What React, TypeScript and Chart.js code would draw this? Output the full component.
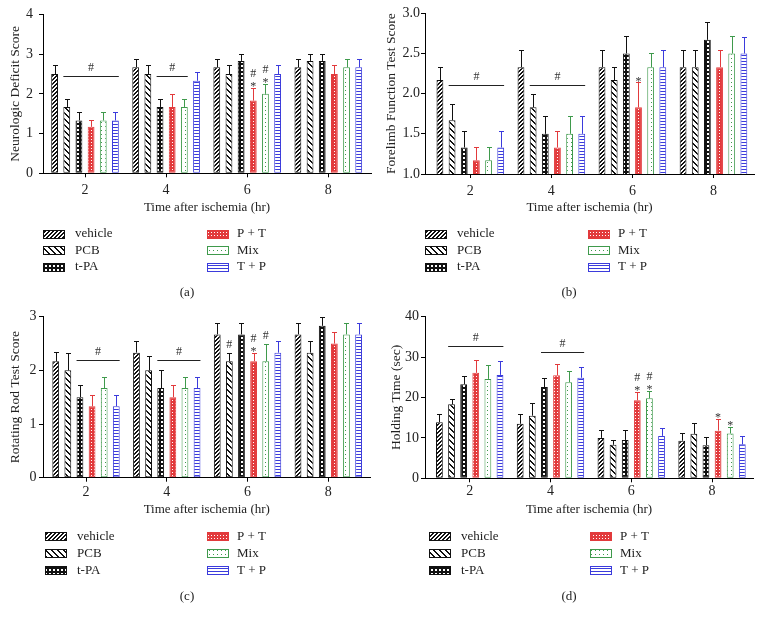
import React, { useEffect, useRef } from "react";
import { Chart, registerables } from "chart.js";

Chart.register(...registerables);

// ---------- data ----------
const HOURS = [2, 4, 6, 8];
const SERIES = ["vehicle", "PCB", "t-PA", "P + T", "Mix", "T + P"];
const X_TITLE = "Time after ischemia (hr)";

// (a) Neurologic deficit score: rows = series, columns = hours
const NEURO_MEAN = [
  [2.5, 2.67, 2.67, 2.67],
  [1.67, 2.5, 2.5, 2.83],
  [1.33, 1.67, 2.83, 2.83],
  [1.17, 1.67, 1.83, 2.5],
  [1.33, 1.67, 2.0, 2.67],
  [1.33, 2.33, 2.5, 2.67],
];
const NEURO_SEM = [
  [0.22, 0.21, 0.21, 0.21],
  [0.21, 0.22, 0.22, 0.17],
  [0.21, 0.21, 0.17, 0.17],
  [0.17, 0.33, 0.31, 0.22],
  [0.21, 0.21, 0.26, 0.21],
  [0.21, 0.21, 0.22, 0.21],
];
const NEURO_TICKS = [0, 1, 2, 3, 4];
const NEURO_BRACKETS = [
  { group: 0, from: 1, to: 5, level: 2.46 },
  { group: 1, from: 2, to: 4, level: 2.46 },
];
const NEURO_MARKS = [
  { group: 2, series: 3, text: ["*", "#"] },
  { group: 2, series: 4, text: ["*", "#"] },
];

// (b) Forelimb function test score
const FORE_MEAN = [
  [2.17, 2.33, 2.33, 2.33],
  [1.67, 1.83, 2.17, 2.33],
  [1.33, 1.5, 2.5, 2.67],
  [1.17, 1.33, 1.83, 2.33],
  [1.17, 1.5, 2.33, 2.5],
  [1.33, 1.5, 2.33, 2.5],
];
const FORE_SEM = [
  [0.16, 0.21, 0.21, 0.21],
  [0.2, 0.17, 0.16, 0.21],
  [0.21, 0.22, 0.22, 0.22],
  [0.16, 0.21, 0.31, 0.21],
  [0.16, 0.22, 0.17, 0.22],
  [0.21, 0.22, 0.21, 0.21],
];
const FORE_TICKS = [1.0, 1.5, 2.0, 2.5, 3.0];
const FORE_BRACKETS = [
  { group: 0, from: 1, to: 5, level: 2.11 },
  { group: 1, from: 1, to: 5, level: 2.11 },
];
const FORE_MARKS = [{ group: 2, series: 3, text: ["*"] }];

// (c) Rotating rod test score
const ROD_MEAN = [
  [2.17, 2.33, 2.67, 2.67],
  [2.0, 2.0, 2.17, 2.33],
  [1.5, 1.67, 2.67, 2.83],
  [1.33, 1.5, 2.17, 2.5],
  [1.67, 1.67, 2.17, 2.67],
  [1.33, 1.67, 2.33, 2.67],
];
const ROD_SEM = [
  [0.17, 0.22, 0.21, 0.21],
  [0.33, 0.26, 0.16, 0.22],
  [0.22, 0.33, 0.21, 0.17],
  [0.22, 0.22, 0.16, 0.22],
  [0.21, 0.21, 0.33, 0.21],
  [0.21, 0.21, 0.22, 0.21],
];
const ROD_TICKS = [0, 1, 2, 3];
const ROD_BRACKETS = [
  { group: 0, from: 2, to: 5, level: 2.2 },
  { group: 1, from: 2, to: 5, level: 2.2 },
];
const ROD_MARKS = [
  { group: 2, series: 1, text: ["#"] },
  { group: 2, series: 3, text: ["*", "#"] },
  { group: 2, series: 4, text: ["#"] },
];

// (d) Holding time (sec)
const HOLD_MEAN = [
  [13.9, 13.5, 10.0, 9.3],
  [18.3, 15.5, 8.3, 11.0],
  [23.3, 22.6, 9.5, 8.2],
  [26.1, 25.5, 19.3, 11.8],
  [24.6, 23.8, 19.8, 11.1],
  [25.6, 24.9, 10.5, 8.4],
];
const HOLD_SEM = [
  [1.9, 2.3, 2.0, 1.9],
  [1.3, 3.2, 1.1, 2.6],
  [1.9, 2.3, 2.4, 2.0],
  [3.3, 2.7, 2.0, 2.9],
  [3.4, 2.8, 1.9, 1.7],
  [3.5, 2.7, 2.0, 2.1],
];
const HOLD_TICKS = [0, 10, 20, 30, 40];
const HOLD_BRACKETS = [
  { group: 0, from: 1, to: 5, level: 32.7 },
  { group: 1, from: 2, to: 5, level: 31.2 },
];
const HOLD_MARKS = [
  { group: 2, series: 3, text: ["*", "#"] },
  { group: 2, series: 4, text: ["*", "#"] },
  { group: 3, series: 3, text: ["*"] },
  { group: 3, series: 4, text: ["*"] },
];

// ---------- styles ----------
const FONT = '"Liberation Serif", "Times New Roman", serif';
const TEXT = "#222";
const RED = "#e23a3c";
const GREEN = "#3f9a4c";
const BLUE = "#3b3bdc";
const COLORS = ["#111", "#111", "#111", RED, GREEN, BLUE];

type Layout = {
  left: number; top: number; w: number; h: number;
  chartLeft: number; chartRight: number; chartTop: number; chartBottom: number;
  xMin: number; xMax: number;
  yTickPad: number; yTitlePad: number; xTickPad: number; xTitleY: number;
  legendL: number; legendR: number; legendY0: number; legendDy: number;
  labelX: number; labelY: number;
};

type Spec = {
  mean: number[][]; sem: number[][]; ticks: number[]; decimals: number;
  yTitle: string; label: string;
  brackets: { group: number; from: number; to: number; level: number }[];
  marks: { group: number; series: number; text: string[] }[];
  layout: Layout;
};

function makePatterns(ctx: CanvasRenderingContext2D) {
  const tile = (w: number, h: number, draw: (g: CanvasRenderingContext2D) => void) => {
    const c = document.createElement("canvas");
    c.width = w; c.height = h;
    const g = c.getContext("2d")!;
    draw(g);
    return ctx.createPattern(c, "repeat")!;
  };
  const px = (g: CanvasRenderingContext2D, x: number, y: number, col: string) => {
    g.fillStyle = col; g.fillRect(x, y, 1, 1);
  };
  return [
    tile(4, 4, (g) => {
      g.fillStyle = "#fff"; g.fillRect(0, 0, 4, 4);
      for (let i = 0; i < 4; i++) { px(g, i, 3 - i, "#111"); px(g, i, (4 - i) % 4, "#111"); }
    }),
    tile(6, 6, (g) => {
      g.fillStyle = "#fff"; g.fillRect(0, 0, 6, 6);
      for (let i = 0; i < 6; i++) { px(g, i, i, "#111"); px(g, i, (i + 1) % 6, "#111"); }
    }),
    tile(4, 4, (g) => {
      g.fillStyle = "#111"; g.fillRect(0, 0, 4, 4);
      g.fillStyle = "#fff"; g.fillRect(1, 1, 2, 2);
    }),
    tile(3, 3, (g) => {
      g.fillStyle = RED; g.fillRect(0, 0, 3, 3);
      px(g, 1, 1, "#fff");
    }),
    tile(4, 4, (g) => {
      g.fillStyle = "#fff"; g.fillRect(0, 0, 4, 4);
      px(g, 1, 2, GREEN);
    }),
    tile(4, 3, (g) => {
      g.fillStyle = "#fff"; g.fillRect(0, 0, 4, 3);
      g.fillStyle = BLUE; g.fillRect(0, 1, 4, 1);
    }),
  ];
}

function overlay(spec: Spec, patterns: CanvasPattern[]) {
  const L = spec.layout;
  return {
    id: "overlay",
    afterDatasetsDraw(chart: any) {
      const ctx: CanvasRenderingContext2D = chart.ctx;
      const ys = chart.scales.y;
      ctx.save();
      // error bars
      spec.mean.forEach((row, s) => {
        const meta = chart.getDatasetMeta(s);
        row.forEach((m, g) => {
          const bar = meta.data[g];
          const x = Math.round(bar.x) + 0.5;
          const yTop = Math.round(ys.getPixelForValue(m + spec.sem[s][g])) + 0.5;
          const yBar = ys.getPixelForValue(m);
          ctx.strokeStyle = COLORS[s];
          ctx.lineWidth = 1;
          ctx.beginPath();
          ctx.moveTo(x, yBar);
          ctx.lineTo(x, yTop);
          ctx.moveTo(x - 2.5, yTop);
          ctx.lineTo(x + 2.5, yTop);
          ctx.stroke();
        });
      });
      ctx.fillStyle = "#333";
      ctx.font = `12px ${FONT}`;
      ctx.textAlign = "center";
      ctx.textBaseline = "middle";
      // brackets
      spec.brackets.forEach((b) => {
        const b0 = chart.getDatasetMeta(b.from).data[b.group];
        const b1 = chart.getDatasetMeta(b.to).data[b.group];
        const x0 = b0.x - b0.width / 2;
        const x1 = b1.x + b1.width / 2;
        const y = Math.round(ys.getPixelForValue(b.level)) + 0.5;
        ctx.strokeStyle = "#222";
        ctx.beginPath();
        ctx.moveTo(x0, y);
        ctx.lineTo(x1, y);
        ctx.stroke();
        ctx.fillText("#", (x0 + x1) / 2, y - 9);
      });
      // marks
      spec.marks.forEach((mk) => {
        const bar = chart.getDatasetMeta(mk.series).data[mk.group];
        const cap = ys.getPixelForValue(spec.mean[mk.series][mk.group] + spec.sem[mk.series][mk.group]);
        let y = cap;
        mk.text.forEach((t, k) => {
          if (k === 0) y = cap - (t === "*" ? 3 : 8);
          else y -= 11;
          ctx.fillText(t, bar.x, t === "*" ? y + 2 : y);
        });
      });
      ctx.restore();
    },
    afterDraw(chart: any) {
      const ctx: CanvasRenderingContext2D = chart.ctx;
      ctx.save();
      ctx.font = `13px ${FONT}`;
      ctx.textBaseline = "middle";
      ctx.textAlign = "left";
      SERIES.forEach((name, s) => {
        const col = s < 3 ? 0 : 1;
        const row = s % 3;
        const sx = col === 0 ? L.legendL : L.legendR;
        const cy = L.legendY0 + row * L.legendDy;
        const sy = Math.round(cy - 4.5);
        ctx.fillStyle = patterns[s];
        ctx.fillRect(sx, sy, 22, 9);
        ctx.strokeStyle = COLORS[s];
        ctx.lineWidth = 1;
        ctx.strokeRect(sx + 0.5, sy + 0.5, 21, 8);
        ctx.fillStyle = TEXT;
        ctx.fillText(name, sx + (col === 0 ? 32 : 30), cy);
      });
      ctx.textAlign = "center";
      ctx.fillText(spec.label, L.labelX, L.labelY);
      ctx.restore();
    },
  };
}

function Panel({ spec }: { spec: Spec }) {
  const ref = useRef<HTMLCanvasElement>(null);
  useEffect(() => {
    const canvas = ref.current!;
    const ctx = canvas.getContext("2d")!;
    const patterns = makePatterns(ctx);
    const L = spec.layout;
    const xAxisBottom = L.xTitleY + 7.8;
    const font = { family: FONT, size: 13 };
    const tickFont = { family: FONT, size: 14 };
    const chart = new Chart(canvas, {
      type: "bar",
      data: {
        datasets: SERIES.map((name, s) => ({
          label: name,
          data: HOURS.map((h, g) => ({ x: h, y: spec.mean[s][g] })),
          backgroundColor: patterns[s],
          borderColor: COLORS[s],
          borderWidth: 1,
          borderSkipped: false,
          categoryPercentage: 0.9,
          barPercentage: 0.56,
        })),
      } as any,
      options: {
        responsive: false,
        animation: false,
        devicePixelRatio: 1,
        layout: {
          padding: { left: 0, top: L.chartTop, right: L.w - L.chartRight, bottom: L.h - xAxisBottom },
        },
        plugins: { legend: { display: false }, tooltip: { enabled: false } },
        scales: {
          x: {
            type: "linear",
            min: L.xMin,
            max: L.xMax,
            offset: false,
            afterBuildTicks: (s: any) => { s.ticks = HOURS.map((v) => ({ value: v })); },
            afterFit: (s: any) => { s.height = xAxisBottom - L.chartBottom; },
            grid: { display: true, offset: false, drawOnChartArea: false, drawTicks: true, tickLength: 4, tickColor: "#000", color: "#000" },
            border: { display: true, color: "#000", width: 1 },
            ticks: { padding: L.xTickPad - 0.6, color: TEXT, font: tickFont, maxRotation: 0, autoSkip: false, callback: (v: any) => String(v) },
            title: { display: true, text: X_TITLE, color: TEXT, font, padding: { top: 0, bottom: 0 } },
          },
          y: {
            type: "linear",
            min: spec.ticks[0],
            max: spec.ticks[spec.ticks.length - 1],
            afterBuildTicks: (s: any) => { s.ticks = spec.ticks.map((v) => ({ value: v })); },
            afterFit: (s: any) => { s.width = L.chartLeft; },
            grid: { display: true, drawOnChartArea: false, drawTicks: true, tickLength: 4, tickColor: "#000", color: "#000" },
            border: { display: true, color: "#000", width: 1 },
            ticks: { padding: L.yTickPad, color: TEXT, font: tickFont, callback: (v: any) => Number(v).toFixed(spec.decimals) },
            title: { display: true, text: spec.yTitle, color: TEXT, font: { family: FONT, size: 13.5 }, padding: { top: L.yTitlePad, bottom: 0 } },
          },
        },
      } as any,
      plugins: [overlay(spec, patterns)],
    });
    return () => chart.destroy();
  }, [spec]);
  const L = spec.layout;
  return (
    <canvas
      ref={ref}
      width={L.w}
      height={L.h}
      style={{ position: "absolute", left: L.left, top: L.top, width: L.w, height: L.h }}
    />
  );
}

const SPECS: Spec[] = [
  {
    mean: NEURO_MEAN, sem: NEURO_SEM, ticks: NEURO_TICKS, decimals: 0,
    yTitle: "Neurologic Deficit Score", label: "(a)",
    brackets: NEURO_BRACKETS, marks: NEURO_MARKS,
    layout: {
      left: 0, top: 0, w: 382, h: 300,
      chartLeft: 43, chartRight: 371, chartTop: 12.3, chartBottom: 173.3,
      xMin: 0.964, xMax: 9.053,
      yTickPad: 6, yTitlePad: 7.5, xTickPad: 5.6, xTitleY: 208,
      legendL: 43, legendR: 207, legendY0: 234, legendDy: 16.5, labelX: 187, labelY: 293,
    },
  },
  {
    mean: FORE_MEAN, sem: FORE_SEM, ticks: FORE_TICKS, decimals: 1,
    yTitle: "Forelimb Function Test Score", label: "(b)",
    brackets: FORE_BRACKETS, marks: FORE_MARKS,
    layout: {
      left: 382, top: 0, w: 382, h: 300,
      chartLeft: 43, chartRight: 372, chartTop: 13.3, chartBottom: 174,
      xMin: 0.882, xMax: 9.0,
      yTickPad: 1, yTitlePad: 1.5, xTickPad: 5.9, xTitleY: 208,
      legendL: 43, legendR: 206, legendY0: 234, legendDy: 16.5, labelX: 187, labelY: 293,
    },
  },
  {
    mean: ROD_MEAN, sem: ROD_SEM, ticks: ROD_TICKS, decimals: 0,
    yTitle: "Rotating Rod Test Score", label: "(c)",
    brackets: ROD_BRACKETS, marks: ROD_MARKS,
    layout: {
      left: 0, top: 300, w: 382, h: 323,
      chartLeft: 43, chartRight: 370.5, chartTop: 16.7, chartBottom: 177.7,
      xMin: 0.935, xMax: 9.045,
      yTickPad: 2.6, yTitlePad: 7.5, xTickPad: 3.2, xTitleY: 210,
      legendL: 45, legendR: 207, legendY0: 236.7, legendDy: 16.7, labelX: 187, labelY: 296.7,
    },
  },
  {
    mean: HOLD_MEAN, sem: HOLD_SEM, ticks: HOLD_TICKS, decimals: 0,
    yTitle: "Holding Time (sec)", label: "(d)",
    brackets: HOLD_BRACKETS, marks: HOLD_MARKS,
    layout: {
      left: 382, top: 300, w: 382, h: 323,
      chartLeft: 43, chartRight: 371, chartTop: 16.7, chartBottom: 178.3,
      xMin: 0.893, xMax: 9.015,
      yTickPad: 2, yTitlePad: 6.5, xTickPad: 1.6, xTitleY: 210,
      legendL: 47, legendR: 208, legendY0: 236.7, legendDy: 16.7, labelX: 187, labelY: 296.7,
    },
  },
];

export default function App() {
  return (
    <div style={{ position: "absolute", left: 0, top: 0, width: 764, height: 623, background: "#fff", overflow: "hidden" }}>
      {SPECS.map((s) => (
        <Panel key={s.label} spec={s} />
      ))}
    </div>
  );
}
